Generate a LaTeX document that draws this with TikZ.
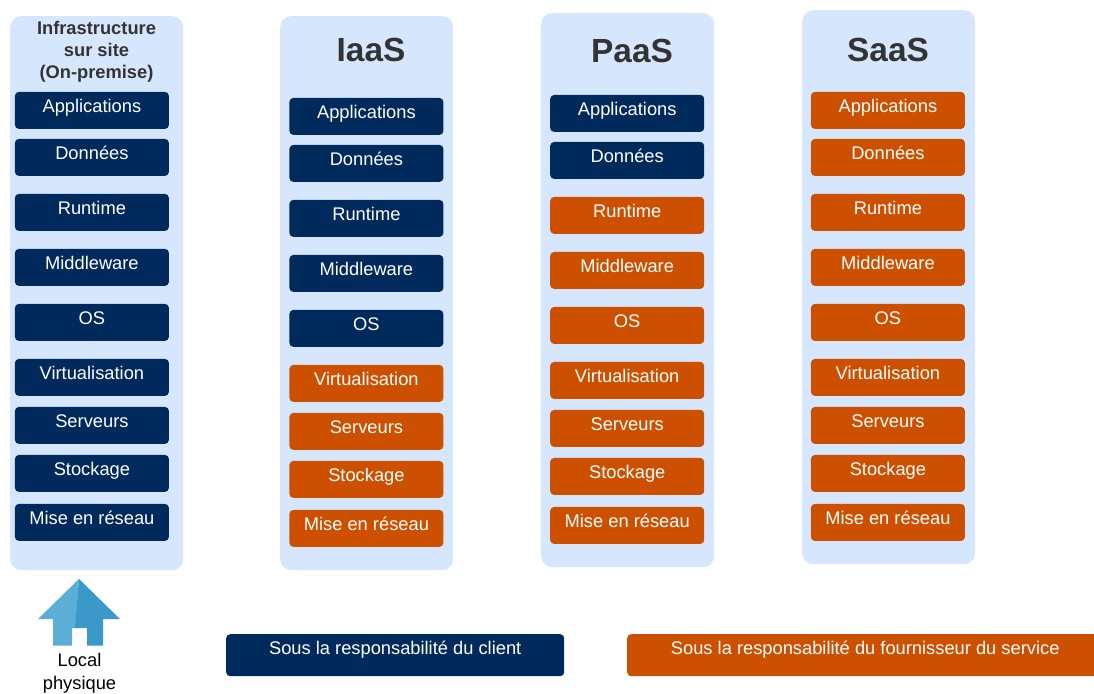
\documentclass[tikz,border=0pt]{standalone}
\usepackage{fontspec}
\setmainfont{Liberation Sans}
\usepackage{tikz}
\definecolor{client}{HTML}{002A5C}
\definecolor{fournisseur}{HTML}{CC5000}
\definecolor{fond}{HTML}{D6E7FD}
\definecolor{titre}{HTML}{333333}
\definecolor{toitclair}{HTML}{5BAFD6}
\definecolor{toitfonce}{HTML}{3A99C9}
\tikzset{
	panel/.style={fill=fond, rounded corners=11pt, minimum width=173pt, minimum height=554pt, inner sep=0pt, anchor=north west},
	stackbox/.style={rounded corners=4pt, text=white, font=\fontsize{18.3}{22}\selectfont, minimum width=154pt, text height=20.5pt, text depth=16.5pt, inner sep=0pt, anchor=north west},
	legendbox/.style={rounded corners=4pt, text=white, font=\fontsize{18.3}{22}\selectfont, text height=20pt, text depth=22pt, inner sep=0pt, anchor=north west},
	titlebig/.style={text=titre, font=\fontsize{33.4}{38}\selectfont\bfseries},
	titlesmall/.style={text=titre, font=\fontsize{18.3}{22}\selectfont\bfseries, align=center},
}
\begin{document}
\begin{tikzpicture}[x=1pt,y=-1pt]
	\clip (0,0) rectangle (1094,693);
	% panels
	\node[panel] (panelA) at (10,16) {};
	\node[panel] (panelB) at (280,16) {};
	\node[panel] (panelC) at (541,13) {};
	\node[panel] (panelD) at (802,10) {};
	% titles
	\node[titlesmall] (titleA) at (96.5,51.5) {Infrastructure\\sur site\\(On-premise)};
	\node[titlebig] (titleB) at (371,50) {IaaS};
	\node[titlebig] (titleC) at (632,51) {PaaS};
	\node[titlebig] (titleD) at (888,50) {SaaS};
	% stacks
	\foreach \col/\xpos/\dy/\nclient in {A/14.7/-0.3/9, B/289.2/5.7/5, C/550/2.7/2, D/810.7/-0.3/0}
		\foreach \lbl/\ypos [count=\i] in {Applications/92, Données/139, Runtime/194, Middleware/249, OS/304, Virtualisation/359, Serveurs/407, Stockage/455, Mise en réseau/504}
		{
			\ifnum\i>\nclient \def\boxcol{fournisseur}\else \def\boxcol{client}\fi
			\node[stackbox, fill=\boxcol] (box\col-\i) at ({\xpos},{\ypos+\dy}) {\lbl};
		}
	% house
	\fill[toitclair] (79,579) -- (38,619) -- (53,619) -- (53,645.5) -- (72,645.5) -- (72,628) -- (75.5,628) -- cycle;
	\fill[toitfonce] (79,579) -- (120,619) -- (103,619) -- (103,645.5) -- (87,645.5) -- (87,628) -- (75,628) -- cycle;
	\node[font=\fontsize{18.3}{23}\selectfont, align=center] (local) at (79.5,673.5) {Local\\physique};
	% legend
	\node[legendbox, fill=client, minimum width=338pt] (legendClient) at (226,634) {Sous la responsabilité du client};
	\node[legendbox, fill=fournisseur, minimum width=476pt] (legendFournisseur) at (627,634) {Sous la responsabilité du fournisseur du service};
\end{tikzpicture}
\end{document}
